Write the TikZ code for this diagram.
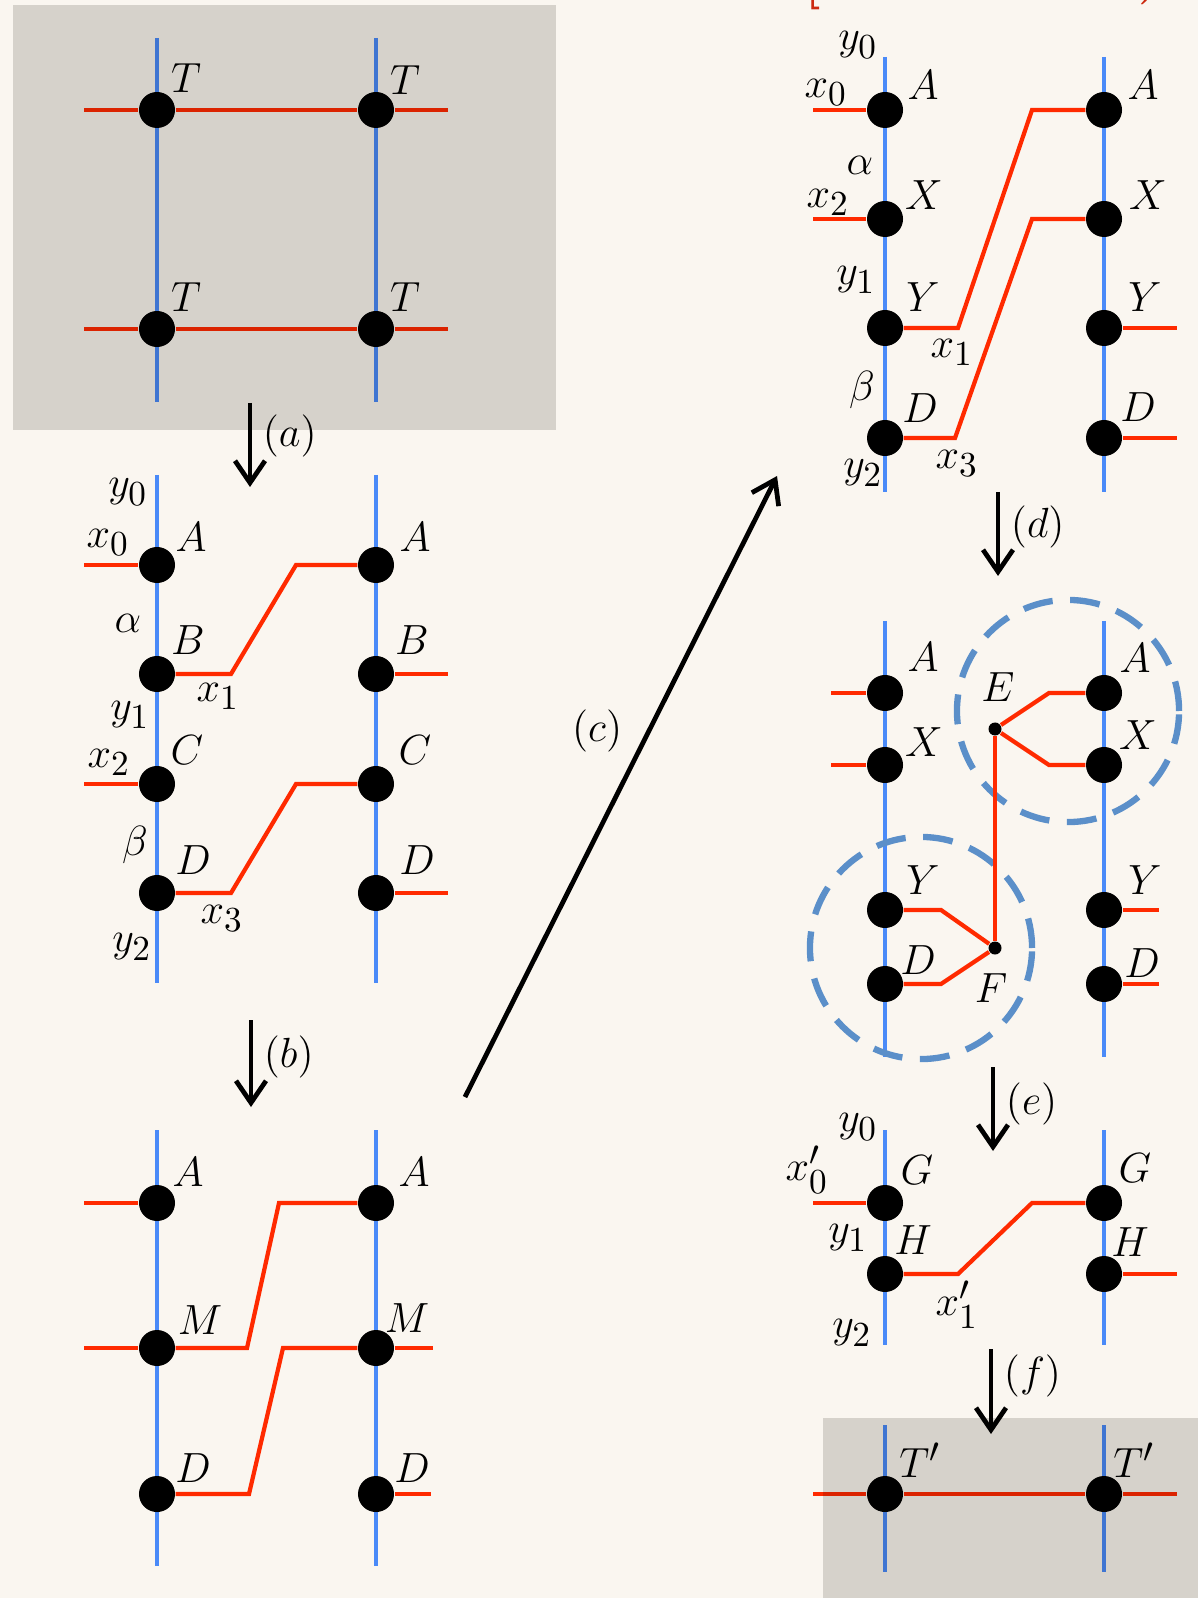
\documentclass[tikz,border=0pt]{standalone}
\usetikzlibrary{arrows.meta, calc}
\DeclareMathSizes{12.3}{12.3}{9.6}{7.5}
\definecolor{bgCream}{HTML}{FAF6F0}
\definecolor{boxTint}{HTML}{DBDAD8}
\definecolor{strandBlue}{HTML}{4A8AF8}
\definecolor{wireRed}{HTML}{FF2A00}
\definecolor{blobBlue}{HTML}{5B8FC9}
\definecolor{titleRed}{HTML}{CC2A10}
\tikzset{
  dot/.style={circle, fill=black, inner sep=0pt, minimum size=0.36cm},
  jdot/.style={circle, fill=black, inner sep=0pt, minimum size=0.13cm},
  strand/.style={strandBlue, line width=0.95pt},
  wire/.style={wireRed, line width=1.2pt},
  move/.style={-{Straight Barb[length=2.2mm, width=3mm]}, line width=1.35pt},
  lbl/.style={inner sep=0pt},
  blob/.style={blobBlue, line width=1.8pt, dash pattern=on 8.5pt off 5pt},
}

\begin{document}
\begin{tikzpicture}[x=0.01cm, y=-0.01cm, font=\fontsize{12.3}{14}\selectfont]
  \fill[bgCream] (0,0) rectangle (1198,1598);
  \useasboundingbox (0,0) rectangle (1198,1598);

  % title, cut off at the top
  \node[lbl, anchor=south, text=titleRed, font=\fontsize{14}{16}\selectfont\bfseries] (ttl) at (813,11) {[};
  \node[lbl, anchor=south, text=titleRed, font=\fontsize{14}{16}\selectfont\bfseries] (ttr) at (1149,6) {)};

  % strands
  \foreach \x in {157,376} {
    \draw[strand] (\x,38) -- (\x,402);
    \draw[strand] (\x,475) -- (\x,983);
    \draw[strand] (\x,1130) -- (\x,1566);
  }
  \foreach \x in {885,1104} {
    \draw[strand] (\x,57) -- (\x,492);
    \draw[strand] (\x,621) -- (\x,1057);
    \draw[strand] (\x,1130) -- (\x,1345);
    \draw[strand] (\x,1425) -- (\x,1572);
  }

  % blobs of step (d)
  \draw[blob] (1068,711) circle[radius=1.11cm];
  \draw[blob] (921,948) circle[radius=1.11cm];

  % panel 1: square
  \foreach \y/\n in {110/1, 329/2} {
    \node[dot] (P1l\n) at (157,\y) {};
    \node[dot] (P1r\n) at (376,\y) {};
    \draw[wire] (84,\y) -- (P1l\n) -- (P1r\n) -- (448,\y);
  }
  \foreach \px/\py in {186/78, 405/80, 186/297, 405/297}
    \node[lbl] at (\px,\py) {$T$};

  % panel 2
  \foreach \y/\n in {565/A, 674/B, 784/C, 893/D} {
    \node[dot] (P2l\n) at (157,\y) {};
    \node[dot] (P2r\n) at (376,\y) {};
  }
  \draw[wire] (84,565) -- (P2lA);
  \draw[wire] (84,784) -- (P2lC);
  \draw[wire] (P2lB) -- (231,674) -- (296,565) -- (P2rA);
  \draw[wire] (P2lD) -- (231,893) -- (296,784) -- (P2rC);
  \draw[wire] (P2rB) -- (448,674);
  \draw[wire] (P2rD) -- (448,893);
  \foreach \px/\py/\t in {128/492/y_0, 108/542/x_0, 191/537/A, 128/623/\alpha,
      188/640/B, 218/696/x_1, 130/715/y_1, 187/750/C, 109/762/x_2,
      135/845/\beta, 193/860/D, 222/918/x_3, 132/947/y_2,
      415/537/A, 412/640/B, 415/750/C, 417/860/D}
    \node[lbl] at (\px,\py) {$\t$};

  % panel 3
  \foreach \y/\n in {1203/A, 1348/M, 1494/D} {
    \node[dot] (P3l\n) at (157,\y) {};
    \node[dot] (P3r\n) at (376,\y) {};
  }
  \draw[wire] (84,1203) -- (P3lA);
  \draw[wire] (84,1348) -- (P3lM);
  \draw[wire] (P3lM) -- (247,1348) -- (279,1203) -- (P3rA);
  \draw[wire] (P3lD) -- (249,1494) -- (283,1348) -- (P3rM);
  \draw[wire] (P3rM) -- (433,1348);
  \draw[wire] (P3rD) -- (431,1494);
  \foreach \px/\py/\t in {188/1172/A, 200/1320/M, 193/1468/D,
      414/1172/A, 407/1318/M, 412/1468/D}
    \node[lbl] at (\px,\py) {$\t$};

  % panel 4
  \foreach \y/\n in {110/A, 219/X, 328/Y, 438/D} {
    \node[dot] (P4l\n) at (885,\y) {};
    \node[dot] (P4r\n) at (1104,\y) {};
  }
  \draw[wire] (813,110) -- (P4lA);
  \draw[wire] (813,219) -- (P4lX);
  \draw[wire] (P4lY) -- (958,328) -- (1032,110) -- (P4rA);
  \draw[wire] (P4lD) -- (955,438) -- (1032,219) -- (P4rX);
  \draw[wire] (P4rY) -- (1177,328);
  \draw[wire] (P4rD) -- (1177,438);
  \foreach \px/\py/\t in {858/45/y_0, 826/92/x_0, 923/85/A, 860/165/\alpha,
      924/195/X, 828/202/x_2, 856/280/y_1, 923/297/Y, 952/352/x_1,
      862/390/\beta, 920/408/D, 863/473/y_2, 957/463/x_3,
      1143/85/A, 1148/195/X, 1145/297/Y, 1138/407/D}
    \node[lbl] at (\px,\py) {$\t$};

  % panel 5
  \foreach \y/\n in {693/A, 765/X, 910/Y, 984/D} {
    \node[dot] (P5l\n) at (885,\y) {};
    \node[dot] (P5r\n) at (1104,\y) {};
  }
  \node[jdot] (E) at (995,729) {};
  \node[jdot] (F) at (995,948) {};
  \draw[wire] (831,693) -- (P5lA);
  \draw[wire] (831,765) -- (P5lX);
  \draw[wire] (E) -- (1049,693) -- (P5rA);
  \draw[wire] (E) -- (1049,765) -- (P5rX);
  \draw[wire] (E) -- (F);
  \draw[wire] (P5lY) -- (941,910) -- (F);
  \draw[wire] (P5lD) -- (941,984) -- (F);
  \draw[wire] (P5rY) -- (1159,910);
  \draw[wire] (P5rD) -- (1159,984);
  \foreach \px/\py/\t in {923/657/A, 924/742/X, 998/687/E, 1135/658/A,
      1138/735/X, 923/880/Y, 918/960/D, 991/988/F, 1145/880/Y, 1142/963/D}
    \node[lbl] at (\px,\py) {$\t$};

  % panel 6
  \foreach \y/\n in {1203/G, 1274/H} {
    \node[dot] (P6l\n) at (885,\y) {};
    \node[dot] (P6r\n) at (1104,\y) {};
  }
  \draw[wire] (813,1203) -- (P6lG);
  \draw[wire] (P6lH) -- (958,1274) -- (1032,1203) -- (P6rG);
  \draw[wire] (P6rH) -- (1177,1274);
  \foreach \px/\py/\t in {858/1127/y_0, 807/1170/x'_0, 917/1170/G, 848/1238/y_1,
      913/1240/H, 957/1305/x'_1, 852/1333/y_2, 1135/1168/G, 1130/1242/H}
    \node[lbl] at (\px,\py) {$\t$};

  % panel 7
  \node[dot] (P7l) at (885,1494) {};
  \node[dot] (P7r) at (1104,1494) {};
  \draw[wire] (813,1494) -- (P7l) -- (P7r) -- (1177,1494);
  \node[lbl] at (920,1460) {$T'$};
  \node[lbl] at (1134,1460) {$T'$};

  % steps
  \draw[move] (250,403) -- (250,487) node[lbl, pos=0.39, right=3pt] {$(a)$};
  \draw[move] (251,1020) -- (251,1107) node[lbl, pos=0.43, right=3pt] {$(b)$};
  \draw[move] (465,1097) -- (777,476) node[lbl, pos=0.59, left=7pt] {$(c)$};
  \draw[move] (998,492) -- (998,576) node[lbl, pos=0.42, right=3pt] {$(d)$};
  \draw[move] (993,1067) -- (993,1151) node[lbl, pos=0.44, right=3pt] {$(e)$};
  \draw[move] (991,1349) -- (991,1434) node[lbl, pos=0.32, right=3pt] {$(f)$};

  % grey boxes laid over the start and the end
  \begin{scope}[blend mode=multiply]
    \fill[boxTint] (13,5) rectangle (556,430);
    \fill[boxTint] (823,1418) rectangle (1198,1598);
  \end{scope}
\end{tikzpicture}
\end{document}
